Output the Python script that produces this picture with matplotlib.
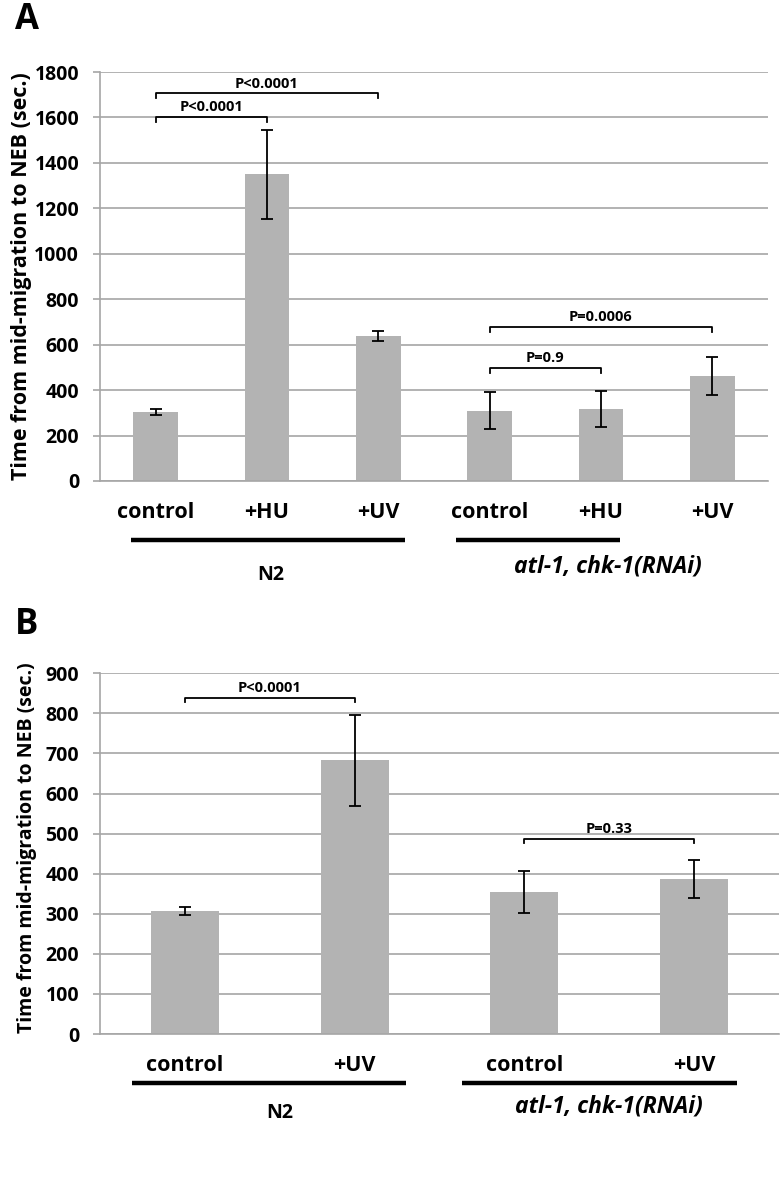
import matplotlib
matplotlib.use("Agg")
import matplotlib.pyplot as plt
import numpy as np

plt.rcParams["font.family"] = ["Open Sans", "DejaVu Sans"]
plt.rcParams["font.weight"] = "bold"

# Panel A data
cats_a = ["control", "+HU", "+UV", "control", "+HU", "+UV"]
means_a = [303, 1350, 640, 310, 316, 462]
errs_a = [12, 195, 22, 82, 78, 82]
# brackets: (left cat, right cat, level, label)
brackets_a = [(0, 2, 1706, "P<0.0001"), (0, 1, 1603, "P<0.0001"),
              (3, 5, 679, "P=0.0006"), (3, 4, 499, "P=0.9")]

# Panel B data
cats_b = ["control", "+UV", "control", "+UV"]
means_b = [308, 683, 355, 387]
errs_b = [10, 113, 52, 47]
brackets_b = [(0, 1, 839, "P<0.0001"), (2, 3, 487, "P=0.33")]

groups = ["N2", "atl-1, chk-1(RNAi)"]

bar_color = "#b3b3b3"
grid_color = "#a6a6a6"

fig = plt.figure(figsize=(7.83, 11.93), dpi=100)
ax_a = fig.add_axes([100 / 783, 1 - 481 / 1193, 668 / 783, 409 / 1193])
ax_b = fig.add_axes([100 / 783, 1 - 1034 / 1193, 679 / 783, 360.7 / 1193])


def draw_panel(ax, cats, means, errs, brackets, ymax, ystep, label_size, label_x, label_y):
    x = np.arange(len(cats))
    ax.bar(x, means, width=0.4, color=bar_color, zorder=2)
    ax.errorbar(x, means, yerr=errs, fmt="none", ecolor="black", elinewidth=1.3,
                capsize=4.5, capthick=1.3, zorder=3)
    ax.set_xlim(-0.5, len(cats) - 0.5)
    ax.set_ylim(0, ymax)
    ax.set_yticks(np.arange(0, ymax + 1, ystep))
    ax.yaxis.grid(True, color=grid_color, linewidth=1.2, zorder=0)
    ax.set_axisbelow(True)
    for s in ["top", "right"]:
        ax.spines[s].set_visible(False)
    for s in ["left", "bottom"]:
        ax.spines[s].set_color(grid_color)
        ax.spines[s].set_linewidth(1.2)
    ax.tick_params(axis="y", length=5, width=1.2, color=grid_color, labelsize=14, pad=10)
    ax.tick_params(axis="x", length=0, labelsize=15.5, pad=15)
    ax.set_xticks(x)
    ax.set_xticklabels(cats)
    ax.set_ylabel("Time from mid-migration to NEB (sec.)", fontsize=label_size,
                  fontweight="bold")
    ax.yaxis.set_label_coords(label_x, label_y)

    tick = 0.012 * ymax
    for i, j, lvl, txt in brackets:
        ax.plot([i, i, j, j], [lvl - tick, lvl, lvl, lvl - tick], color="black",
                lw=1.3, clip_on=False, zorder=4)
        ax.annotate(txt, xy=((i + j) / 2, lvl), xytext=(0, 4), textcoords="offset points",
                    ha="center", va="baseline", fontsize=10.5, fontweight="bold")


draw_panel(ax_a, cats_a, means_a, errs_a, brackets_a, 1800, 200, 15.5, -0.102, 0.5)
draw_panel(ax_b, cats_b, means_b, errs_b, brackets_b, 900, 100, 14, -0.093, 0.516)

# group underlines and labels
tr_a = ax_a.get_xaxis_transform()
ax_a.plot([-0.22, 2.24], [-0.144, -0.144], color="black", lw=3.2, transform=tr_a,
          clip_on=False, solid_capstyle="butt")
ax_a.plot([2.70, 4.17], [-0.144, -0.144], color="black", lw=3.2, transform=tr_a,
          clip_on=False, solid_capstyle="butt")
ax_a.text(1.036, -0.23, groups[0], transform=tr_a, ha="center", va="center",
          fontsize=14, fontweight="bold")
ax_a.text(4.06, -0.21, groups[1], transform=tr_a, ha="center", va="center",
          fontsize=16.5, fontweight="bold", style="italic")

tr_b = ax_b.get_xaxis_transform()
ax_b.plot([-0.31, 1.30], [-0.136, -0.136], color="black", lw=3.2, transform=tr_b,
          clip_on=False, solid_capstyle="butt")
ax_b.plot([1.63, 3.25], [-0.136, -0.136], color="black", lw=3.2, transform=tr_b,
          clip_on=False, solid_capstyle="butt")
ax_b.text(0.56, -0.22, groups[0], transform=tr_b, ha="center", va="center",
          fontsize=14, fontweight="bold")
ax_b.text(2.50, -0.202, groups[1], transform=tr_b, ha="center", va="center",
          fontsize=16.5, fontweight="bold", style="italic")

# panel letters
fig.text(15 / 783, 1 - 20 / 1193, "A", fontsize=25, fontweight="bold", va="center", ha="left")
fig.text(15 / 783, 1 - 625 / 1193, "B", fontsize=25, fontweight="bold", va="center", ha="left")

fig.savefig("out.png", dpi=100)
